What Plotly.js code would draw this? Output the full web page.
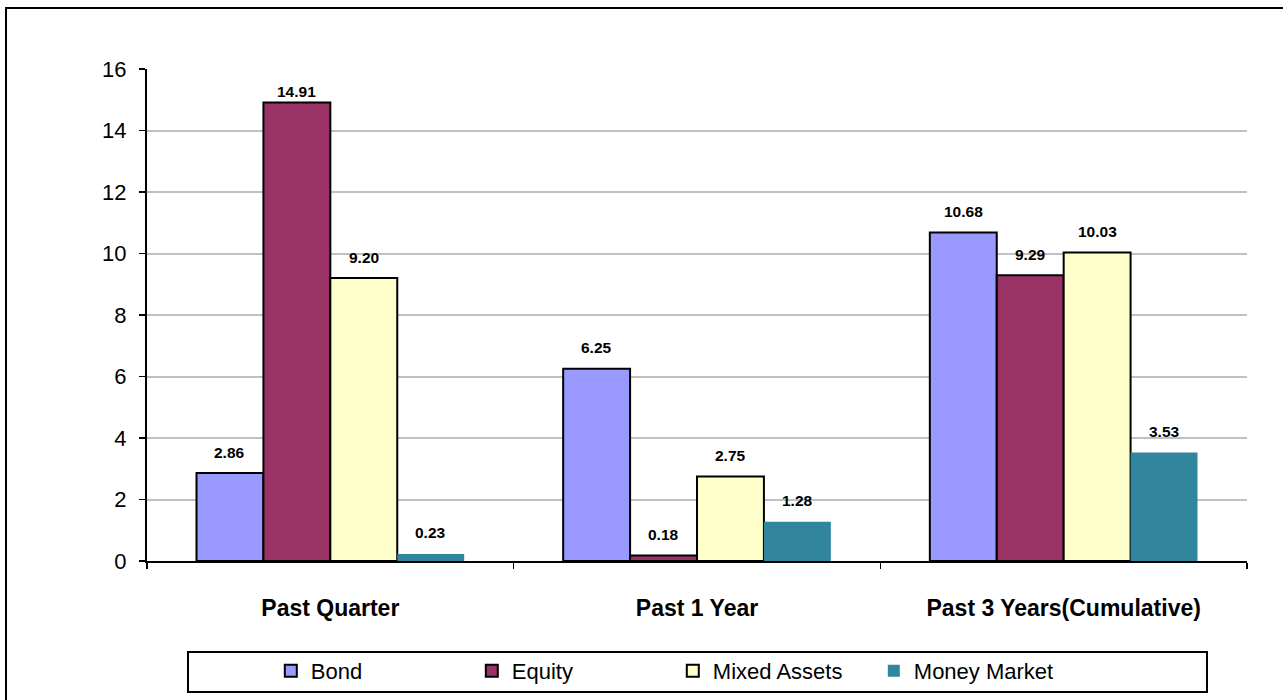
<!DOCTYPE html>
<html>
<head>
<meta charset="utf-8">
<script src="https://cdn.plot.ly/plotly-3.0.1.min.js"></script>
<style>
  html, body { margin: 0; padding: 0; background: #fff; overflow: hidden; }
  #frame { position: absolute; left: 5px; top: 7px; width: 1300px; height: 720px; border: 2.5px solid #000; box-sizing: border-box; pointer-events: none; z-index: 5; }
  #chart { position: absolute; left: 0; top: 0; width: 1283px; height: 700px; }
</style>
</head>
<body>
<div id="chart"></div>
<div id="frame"></div>
<script>
const categories = ["Past Quarter", "Past 1 Year", "Past 3 Years(Cumulative)"];
const seriesNames = ["Bond", "Equity", "Mixed Assets", "Money Market"];
const bond = [2.86, 6.25, 10.68];
const equity = [14.91, 0.18, 9.29];
const mixedAssets = [9.20, 2.75, 10.03];
const moneyMarket = [0.23, 1.28, 3.53];
const yTicks = [0, 2, 4, 6, 8, 10, 12, 14, 16];

const seriesValues = [bond, equity, mixedAssets, moneyMarket];
const colors = ["#9999FF", "#993366", "#FFFFCC", "#31859C"];
const outlines = [2, 2, 2, 0];
const FONT = "Liberation Sans, Arial, sans-serif";

const traces = seriesValues.map((vals, i) => ({
  type: "bar",
  name: seriesNames[i],
  x: categories,
  y: vals,
  marker: { color: colors[i], line: { color: "#000", width: outlines[i] } },
  hoverinfo: "skip"
}));

// data labels above bars (kept inside the plot area near the top, like Excel)
const plotW = 1283 - 147 - 36;
const plotH = 700 - 69 - 139;
const yMax = 16;
const pxPerUnit = plotH / yMax;
const groupW = plotW / categories.length;
const bargap = 0.27;
const barW = groupW * (1 - bargap) / seriesValues.length;
const annotations = [];
seriesValues.forEach((vals, i) => {
  vals.forEach((v, j) => {
    annotations.push({
      x: categories[j], y: v, xref: "x", yref: "y",
      text: v.toFixed(2), showarrow: false,
      xshift: (i - (seriesValues.length - 1) / 2) * barW,
      yshift: Math.min(21, (yMax - v) * pxPerUnit - 22),
      font: { family: FONT, size: 15.5, color: "#000", weight: "bold" }
    });
  });
});

const layout = {
  width: 1283, height: 700,
  margin: { l: 147, r: 36, t: 69, b: 139 },
  paper_bgcolor: "#fff", plot_bgcolor: "#fff",
  barmode: "group", bargap: bargap, bargroupgap: 0,
  showlegend: true,
  legend: {
    orientation: "h", x: 0.478, xanchor: "center",
    yref: "container", y: 1 - 671 / 700, yanchor: "middle",
    font: { family: FONT, size: 22, color: "#000" },
    entrywidth: 156, entrywidthmode: "pixels",
    itemwidth: 30, bgcolor: "rgba(0,0,0,0)", borderwidth: 0,
    traceorder: "normal"
  },
  xaxis: {
    type: "category",
    showline: true, linecolor: "#000", linewidth: 2,
    ticks: "outside", tickson: "boundaries", ticklen: 6, tickwidth: 1.5, tickcolor: "#000",
    tickfont: { family: FONT, size: 23, color: "#000", weight: "bold" },
    ticklabelstandoff: 25,
    showgrid: false, zeroline: false, fixedrange: true
  },
  yaxis: {
    range: [0, yMax], tickvals: yTicks, ticktext: yTicks.map(String),
    showline: true, linecolor: "#000", linewidth: 2,
    ticks: "outside", ticklen: 6, tickwidth: 1.5, tickcolor: "#000",
    tickfont: { family: FONT, size: 22, color: "#000" },
    ticklabelstandoff: 8,
    showgrid: true, gridcolor: "#C0C0C0", gridwidth: 2,
    zeroline: false, fixedrange: true
  },
  shapes: [{
    type: "rect", xref: "paper", yref: "paper",
    x0: (188 - 147) / plotW, x1: (1207 - 147) / plotW,
    y0: -(692 - 561) / plotH, y1: -(652 - 561) / plotH,
    line: { color: "#000", width: 2 }, fillcolor: "rgba(0,0,0,0)", layer: "above"
  }],
  annotations: annotations
};

Plotly.newPlot("chart", traces, layout, { displayModeBar: false, staticPlot: true });
</script>
</body>
</html>
